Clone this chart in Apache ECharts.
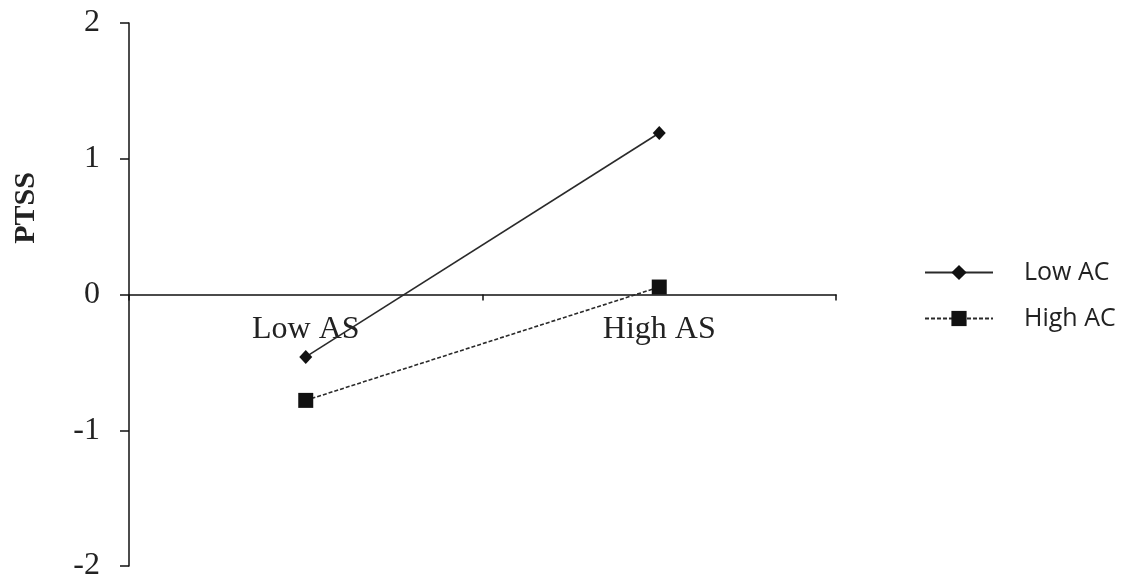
<!DOCTYPE html>
<html>
<head>
<meta charset="utf-8">
<script src="https://cdn.jsdelivr.net/npm/echarts@6/dist/echarts.min.js"></script>
<style>html,body{margin:0;padding:0;background:#fff}#c{width:1132px;height:585px}</style>
</head>
<body>
<div id="c"></div>
<script>
const categories = ['Low AS', 'High AS'];
const lowAC = [-0.46, 1.19];
const highAC = [-0.78, 0.055];
const yTicks = [-2, -1, 0, 1, 2];
const seriesNames = ['Low AC', 'High AC'];
const yAxisName = 'PTSS';

const gridTop = 23, gridBottom = 19, H = 585;
const yMin = yTicks[0], yMax = yTicks[yTicks.length - 1];
const gridH = H - gridTop - gridBottom;
const zeroOffset = -gridH * (0 - yMin) / (yMax - yMin);

const chart = echarts.init(document.getElementById('c'));
const serif = '"Liberation Serif", "DejaVu Serif", serif';
chart.setOption({
  animation: false,
  grid: { left: 129, right: 296, top: gridTop, bottom: gridBottom, containLabel: false, outerBoundsMode: 'none' },
  legend: {
    orient: 'vertical',
    left: 919,
    top: 255,
    itemWidth: 68,
    itemHeight: 19,
    itemGap: 21,
    data: seriesNames,
    textStyle: { fontFamily: '"Open Sans", "Liberation Sans", sans-serif', fontSize: 25, color: '#222', padding: [0, 0, 0, 26] }
  },
  xAxis: {
    type: 'category',
    data: categories,
    boundaryGap: true,
    position: 'bottom',
    offset: zeroOffset,
    axisLine: { onZero: false, lineStyle: { color: '#111', width: 1.5 } },
    axisTick: { show: true, length: 6, lineStyle: { color: '#111', width: 1.5 } },
    axisLabel: { fontFamily: serif, fontSize: 32, color: '#222', margin: 19 },
    splitLine: { show: false }
  },
  yAxis: {
    type: 'value',
    min: yMin,
    max: yMax,
    interval: 1,
    axisLine: { show: true, onZero: false, lineStyle: { color: '#111', width: 1.5 } },
    axisTick: { show: true, length: 9, lineStyle: { color: '#111', width: 1.5 } },
    axisLabel: { fontFamily: serif, fontSize: 32, color: '#222', margin: 29 },
    splitLine: { show: false }
  },
  graphic: [{
    type: 'text',
    x: 26,
    y: 208,
    rotation: Math.PI / 2,
    style: { text: yAxisName, font: 'bold 30px "Liberation Serif", serif', fill: '#222', align: 'center', verticalAlign: 'middle' }
  }],
  series: [
    {
      name: seriesNames[0],
      type: 'line',
      data: lowAC,
      symbol: 'diamond',
      symbolSize: [13, 14],
      lineStyle: { color: '#2a2a2a', width: 1.6, type: 'solid' },
      itemStyle: { color: '#111' }
    },
    {
      name: seriesNames[1],
      type: 'line',
      data: highAC,
      symbol: 'rect',
      symbolSize: 15,
      lineStyle: { color: '#2a2a2a', width: 1.6, type: [4, 2] },
      itemStyle: { color: '#111' }
    }
  ]
});
</script>
</body>
</html>
